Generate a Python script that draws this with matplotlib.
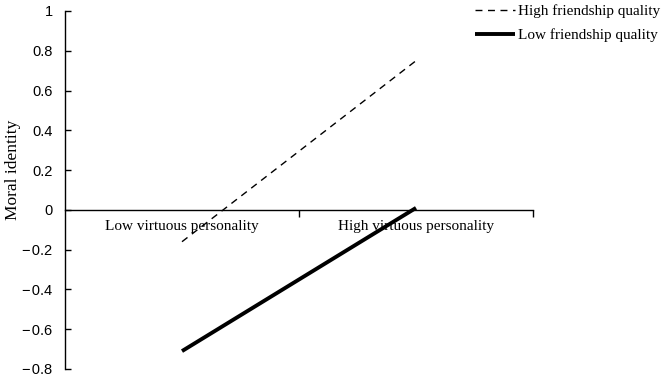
import matplotlib
matplotlib.use("Agg")
import matplotlib.pyplot as plt
from matplotlib.ticker import FixedLocator, FuncFormatter

plt.rcParams['font.family'] = ['Liberation Serif', 'DejaVu Serif']

categories = ["Low virtuous personality", "High virtuous personality"]
high_fq = [-0.16, 0.75]
low_fq = [-0.71, 0.01]
yticks = [-0.8, -0.6, -0.4, -0.2, 0, 0.2, 0.4, 0.6, 0.8, 1]

fig = plt.figure(figsize=(6.69, 3.78), dpi=100)
ax = fig.add_axes([65/669, 9/378, 468/669, 358/378])

x = list(range(len(categories)))
ax.plot(x, high_fq, color='black', lw=1.0, linestyle=(0, (5, 4)), label='High friendship quality')
ax.plot(x, low_fq, color='black', lw=2.8, solid_capstyle='butt', label='Low friendship quality')

ax.set_xlim(-0.5, 1.5)
ax.set_ylim(-0.8, 1.0)

ax.spines['top'].set_visible(False)
ax.spines['right'].set_visible(False)
ax.spines['bottom'].set_position(('data', 0))
for s in ['left', 'bottom']:
    ax.spines[s].set_linewidth(1.0)

ax.yaxis.set_major_locator(FixedLocator(yticks))
def fmt(v, pos):
    s = ('%.1f' % v).rstrip('0').rstrip('.') if abs(v) > 1e-9 else '0'
    return s.replace('-', '\u2212\u200a')
ax.yaxis.set_major_formatter(FuncFormatter(fmt))
ax.tick_params(axis='y', direction='in', length=4, width=1, labelsize=10.5, pad=9)
for lbl in ax.get_yticklabels():
    lbl.set_fontfamily(['Liberation Sans', 'DejaVu Sans'])

ax.xaxis.set_major_locator(FixedLocator([0.5, 1.5]))
ax.set_xticklabels([], minor=False)
ax.set_xticks(x, categories, minor=True)
ax.tick_params(axis='x', which='major', direction='out', length=5, width=1)
ax.tick_params(axis='x', which='minor', length=0, labelsize=11, pad=7)

fig.text(13/669, 1 - 170/378, 'Moral identity', rotation=90, fontsize=12.5,
         ha='center', va='center')

fig.legend(loc='upper right', bbox_to_anchor=(1.0, 1.012), frameon=False, fontsize=11,
           handlelength=2.6, handletextpad=0.2, labelspacing=0.65, borderaxespad=0.2)

fig.savefig('out.png', dpi=100)
